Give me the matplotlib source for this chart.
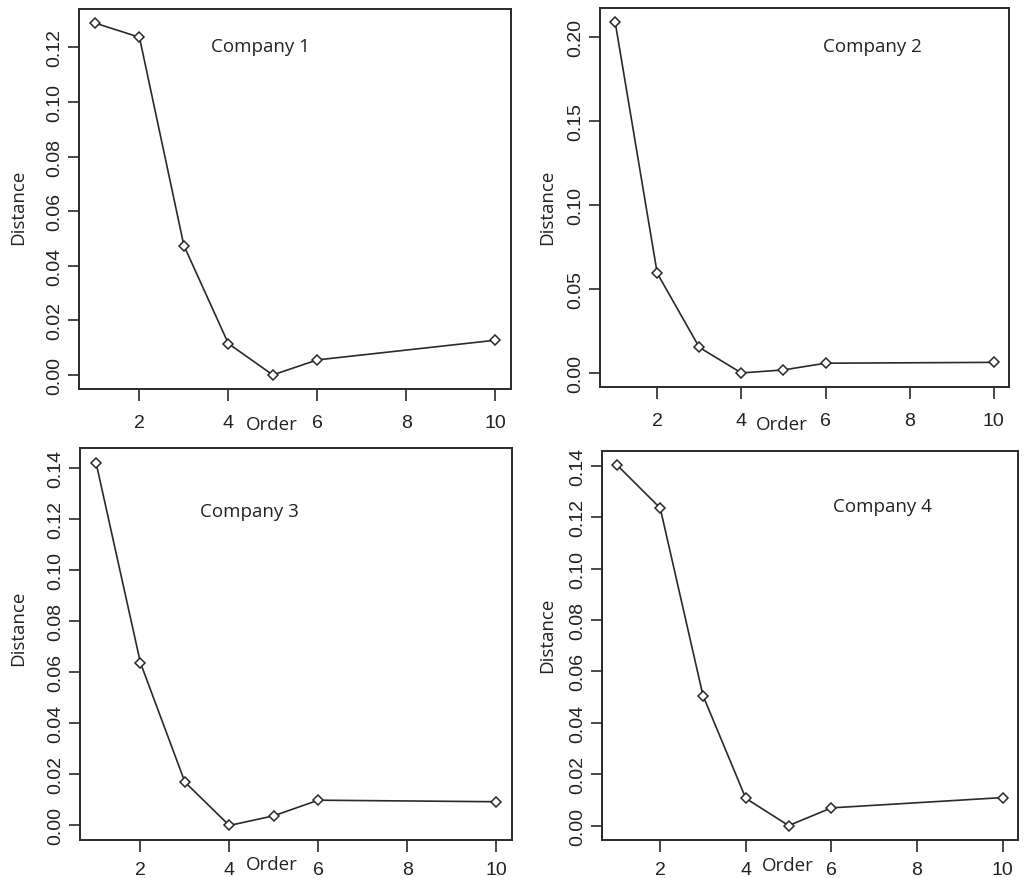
import matplotlib
matplotlib.use('Agg')
import matplotlib.pyplot as plt
import numpy as np

# order of the model and distance for each company
order = [1, 2, 3, 4, 5, 6, 10]
dist1 = [0.1289, 0.1237, 0.0474, 0.0115, 0.0000, 0.0055, 0.0127]
dist2 = [0.2086, 0.0593, 0.0152, 0.0000, 0.0018, 0.0058, 0.0063]
dist3 = [0.1421, 0.0637, 0.0170, 0.0000, 0.0038, 0.0099, 0.0093]
dist4 = [0.1402, 0.1236, 0.0506, 0.0106, 0.0000, 0.0069, 0.0109]
nomes = ['Company 1', 'Company 2', 'Company 3', 'Company 4']
yticks = [np.arange(0, 0.121, 0.02), np.arange(0, 0.201, 0.05),
          np.arange(0, 0.141, 0.02), np.arange(0, 0.141, 0.02)]
xticks = [2, 4, 6, 8, 10]

W, H = 1024, 879
fig = plt.figure(figsize=(W/100, H/100), dpi=100)

# caixas em pixels: esquerda, direita, topo, base
caixas = [(79, 511, 10, 390), (600, 1009, 9, 388),
          (80, 512, 449, 841), (602, 1018, 452, 841)]
# posicao do nome da empresa (fracao do eixo)
pos_nome = [(0.419, 0.903), (0.667, 0.90), (0.391, 0.84), (0.673, 0.858)]
# Distance / Order (pixels)
pos_dist = [(18, 207), (547, 207), (18, 628), (547, 635)]
pos_order = [(272, 425), (782, 425), (272, 865), (788, 866)]
pad_x = [9.5, 9.5, 6.5, 6.5]

cor = '#2a2a2a'
fonte_txt = 'Open Sans'
fonte_num = 'Liberation Sans'

dados = [dist1, dist2, dist3, dist4]
for i in range(4):
    l, r, t, b = caixas[i]
    ax = fig.add_axes([l/W, 1 - b/H, (r-l)/W, (b-t)/H])
    y = dados[i]
    ax.plot(order, y, '-', color=cor, lw=1.2, marker='D', ms=5,
            mfc='white', mec=cor, mew=1.1)
    # limites no estilo do R (4% de cada lado)
    xr = max(order) - min(order)
    ax.set_xlim(min(order) - 0.04*xr, max(order) + 0.04*xr)
    yr = max(y) - min(y)
    ax.set_ylim(min(y) - 0.04*yr, max(y) + 0.04*yr)

    ax.set_xticks(xticks)
    ax.set_xticklabels([str(v) for v in xticks], fontsize=14,
                       family=fonte_num, color='#222')
    ax.set_yticks(yticks[i])
    ax.set_yticklabels(['%.2f' % v for v in yticks[i]], fontsize=14,
                       family=fonte_num, color='#222', rotation=90, va='center')
    ax.tick_params(axis='x', length=8.5, width=1.2, color=cor, pad=pad_x[i])
    ax.tick_params(axis='y', length=8, width=1.2, color=cor, pad=3)
    for s in ax.spines.values():
        s.set_color(cor)
        s.set_linewidth(1.4)

    ax.text(pos_nome[i][0], pos_nome[i][1], nomes[i], transform=ax.transAxes,
            ha='center', va='center', fontsize=13.5, family=fonte_txt, color='#222')

    fig.text(pos_dist[i][0]/W, 1 - pos_dist[i][1]/H, 'Distance', rotation=90,
             ha='center', va='center', fontsize=13.5, family=fonte_txt, color='#222')
    fig.text(pos_order[i][0]/W, 1 - pos_order[i][1]/H, 'Order',
             ha='center', va='center', fontsize=13.5, family=fonte_txt, color='#222')

fig.savefig('out.png', dpi=100, facecolor='white')
